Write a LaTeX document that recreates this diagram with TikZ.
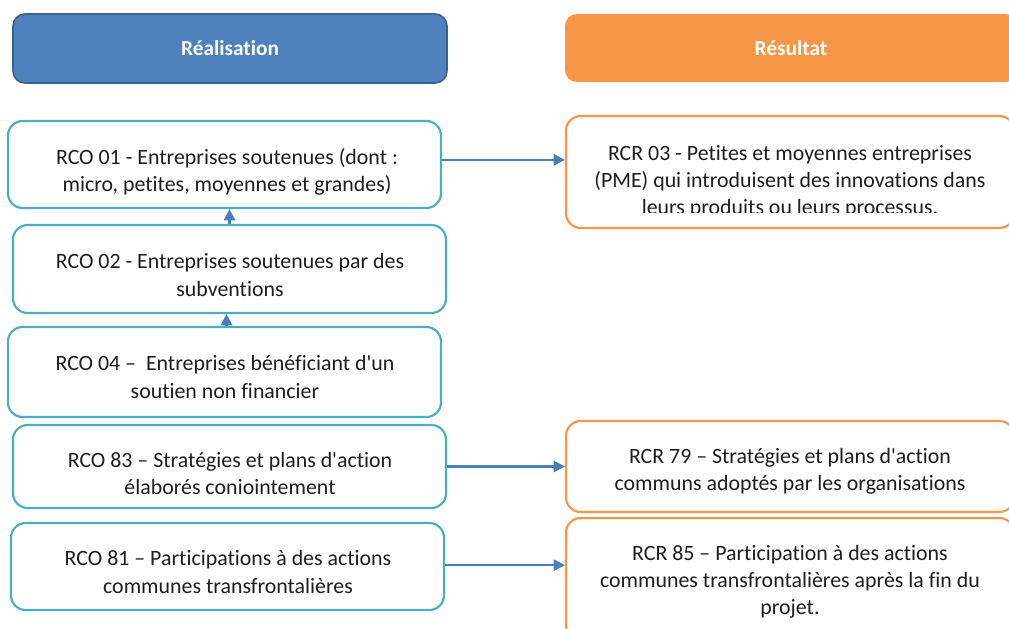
\documentclass[tikz,border=0pt]{standalone}
\usepackage{fontspec}
\setmainfont{Carlito}[Ligatures={NoCommon}]
\usetikzlibrary{arrows.meta}
\definecolor{hblue}{HTML}{4F81BD}
\definecolor{hblueline}{HTML}{3A6394}
\definecolor{horange}{HTML}{F79646}
\definecolor{cyanline}{HTML}{4BACC6}
\definecolor{arrowblue}{HTML}{4A7EBB}
\definecolor{txt}{HTML}{1E1E1E}
\newcommand\apos{\textquotesingle}
\tikzset{
  lbox/.style={draw=cyanline, line width=1.6pt, rounded corners=11pt, fill=white},
  rbox/.style={draw=horange, line width=1.6pt, rounded corners=11pt, fill=white},
  btxt/.style={align=center, text=txt, inner sep=0pt, font=\fontsize{16.4pt}{20.4pt}\selectfont},
  htxt/.style={text=white, inner sep=0pt, font=\fontsize{16pt}{19pt}\selectfont\bfseries},
  conn/.style={draw=arrowblue, line width=1.7pt, -{Triangle[length=8.5pt, width=8.5pt]}}
}
\begin{document}
\begin{tikzpicture}[x=0.75pt, y=-0.75pt]
\useasboundingbox (0,0) rectangle (1009,628);
\clip (0,0) rectangle (1009,628);
% headers
\node[fill=hblue, draw=hblueline, line width=1.2pt, rounded corners=9pt, minimum width=325.5pt, minimum height=51.75pt] (hdrL) at (230,48.5) {};
\node[htxt] (hdrLt) at (hdrL.center) {Réalisation};
\node[fill=horange, rounded corners=9pt, minimum width=339pt, minimum height=51pt] (hdrR) at (791,48) {};
\node[htxt] (hdrRt) at (hdrR.center) {Résultat};
% left boxes
\node[lbox, minimum width=324.75pt, minimum height=65.25pt] (rco01) at (224.5,164.5) {};
\node[lbox, minimum width=324.75pt, minimum height=66pt] (rco02) at (229.5,269) {};
\node[lbox, minimum width=324.75pt, minimum height=67.5pt] (rco04) at (224.5,372) {};
\node[lbox, minimum width=324.75pt, minimum height=62.25pt] (rco83) at (229.5,466.5) {};
\node[lbox, minimum width=324.75pt, minimum height=65.25pt] (rco81) at (227.5,566.5) {};
% right boxes
\node[rbox, minimum width=336pt, minimum height=84pt] (rcr03) at (790,172) {};
\node[rbox, minimum width=336pt, minimum height=68.25pt] (rcr79) at (790,466.5) {};
\node[rbox, minimum width=336pt, minimum height=91.5pt] (rcr85) at (790,579) {};
% texts
\node[btxt] (rco01t) at (227,172) {RCO 01 - Entreprises soutenues (dont :\\micro, petites, moyennes et grandes)};
\node[btxt] (rco02t) at (230,275) {RCO 02 - Entreprises soutenues par des\\subventions};
\node[btxt] (rco04t) at (225,377) {RCO 04 –\ \ Entreprises bénéficiant d\apos un\\soutien non financier};
\begin{scope}
\clip (13,425) rectangle (446,493);
\node[btxt] (rco83t) at (230,475) {RCO 83 – Stratégies et plans d\apos action\\élaborés conjointement};
\end{scope}
\node[btxt] (rco81t) at (228,572) {RCO 81 – Participations à des actions\\communes transfrontalières};
\begin{scope}
\clip (566,116) rectangle (1014,212);
\node[btxt] (rcr03t) at (790,181.5) {RCR 03 - Petites et moyennes entreprises\\(PME) qui introduisent des innovations dans\\leurs produits ou leurs processus.};
\end{scope}
\node[btxt] (rcr79t) at (790,471) {RCR 79 – Stratégies et plans d\apos action\\communs adoptés par les organisations};
\node[btxt] (rcr85t) at (790,582) {RCR 85 – Participation à des actions\\communes transfrontalières après la fin du\\projet.};
% connectors
\draw[conn] ([yshift=3.5pt]rco01.east) -- ([yshift=3.5pt]rco01.east -| rcr03.west);
\draw[conn] (rco83.east) -- (rco83.east -| rcr79.west);
\draw[conn] ([yshift=1pt]rco81.east) -- ([yshift=1pt]rco81.east -| rcr85.west);
\draw[conn] (rco02.north) -- (rco02.north |- rco01.south);
\draw[conn] ([xshift=1.5pt]rco04.north) -- ([xshift=1.5pt]rco04.north |- rco02.south);
\end{tikzpicture}
\end{document}
